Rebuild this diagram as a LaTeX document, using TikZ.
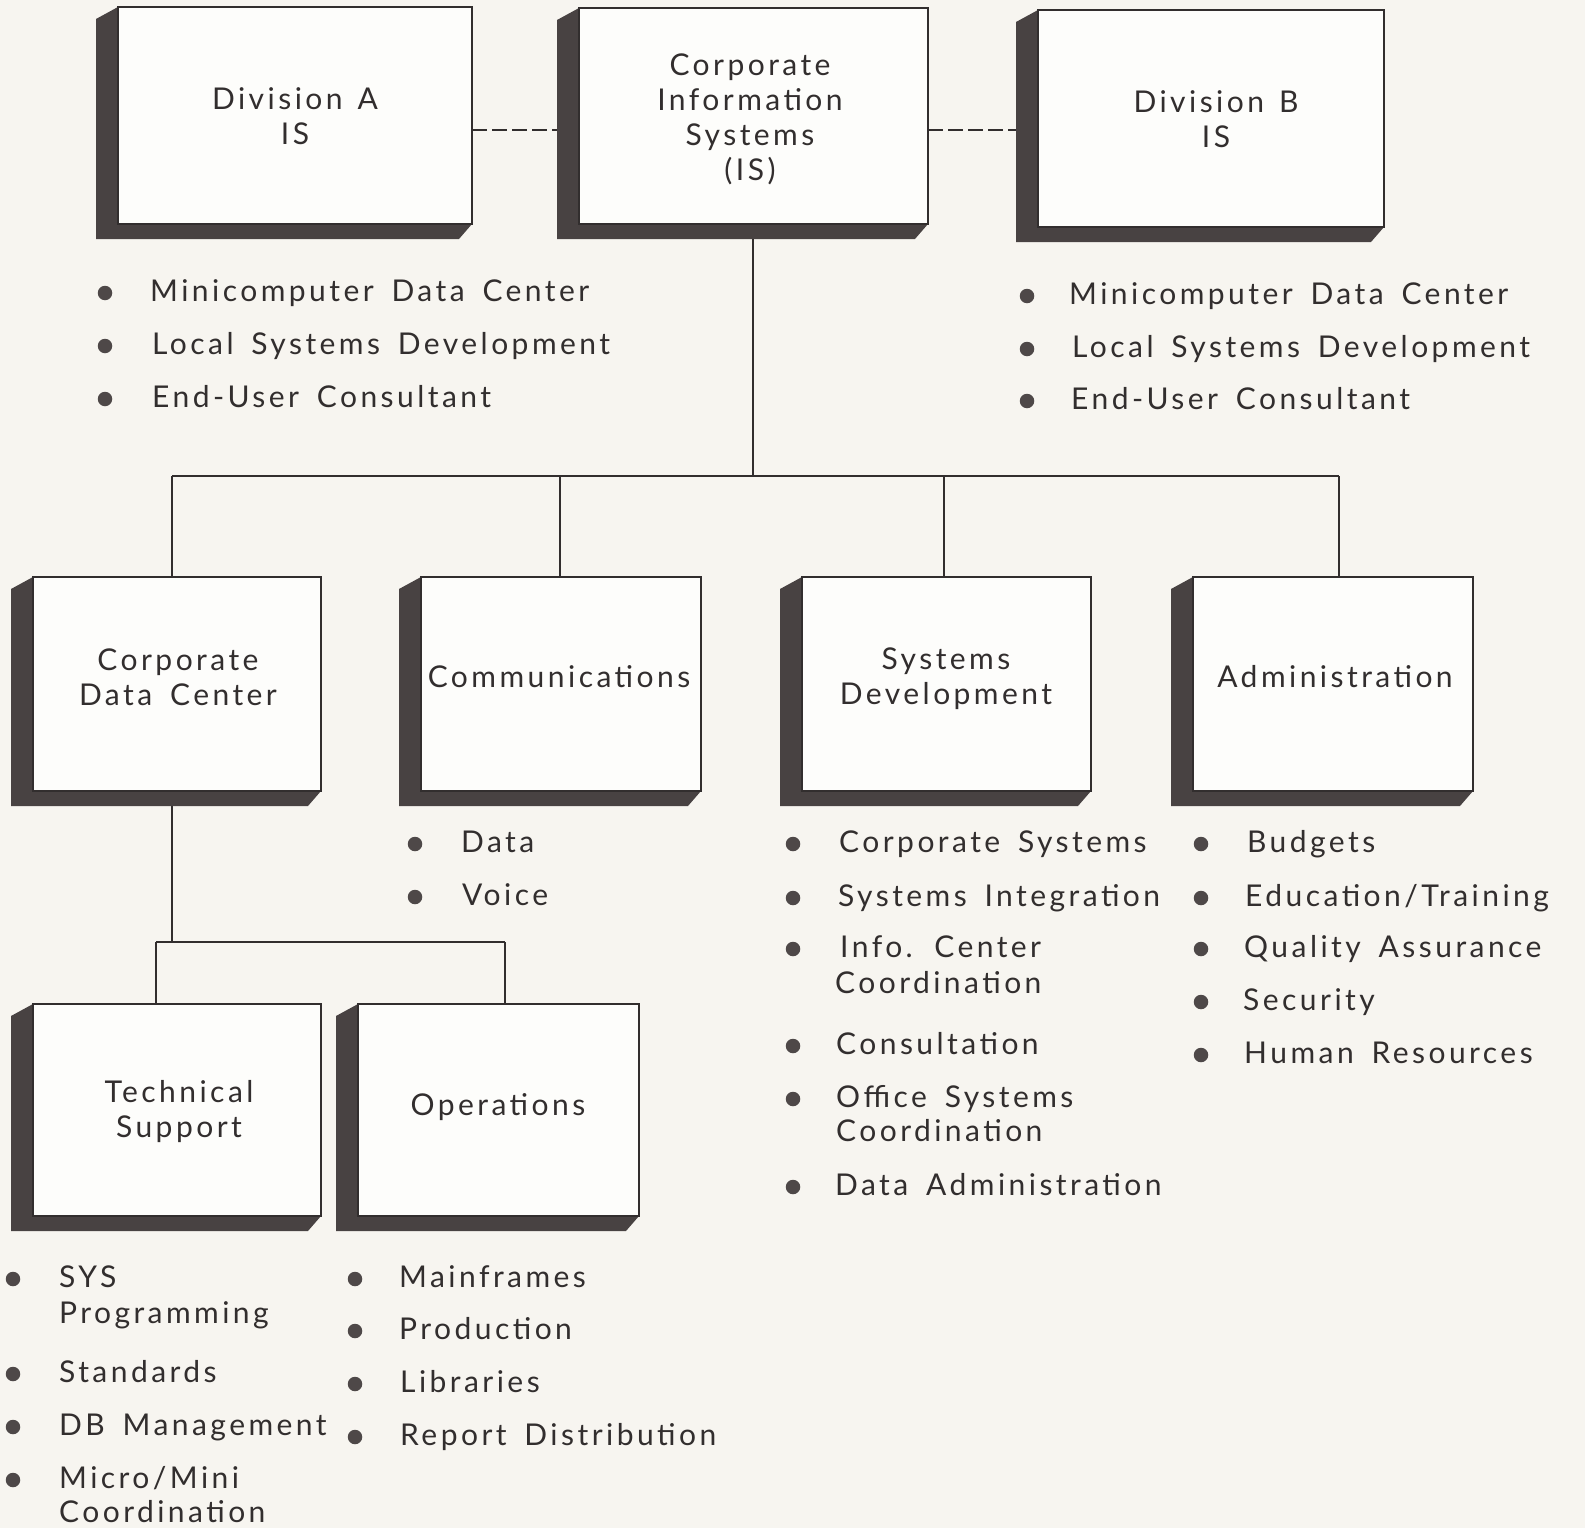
\documentclass[tikz,border=0pt]{standalone}
\usepackage{fontspec}
\setmainfont{Lato}[LetterSpace=11.5,WordSpace=1.6]
\usetikzlibrary{calc}
\pgfdeclarelayer{background}
\pgfsetlayers{background,main}

\definecolor{paper}{RGB}{247,245,240}
\definecolor{face}{RGB}{253,253,251}
\definecolor{extrude}{RGB}{72,66,66}
\definecolor{ink}{RGB}{50,46,46}
\definecolor{dotink}{RGB}{78,72,72}

\tikzset{
  boxface/.style={draw=ink, line width=1.2pt, fill=face, inner sep=0pt, outer sep=0pt},
  boxlabel/.style={align=center, text=ink, inner sep=0pt, font=\fontsize{30}{35}\selectfont},
  itemtext/.style={anchor=base west, text=ink, inner sep=0pt, font=\fontsize{30}{36}\selectfont},
  dot/.style={circle, fill=dotink, inner sep=0pt, minimum size=14.5pt},
  link/.style={draw=ink, line width=1.3pt},
  dashlink/.style={draw=ink, line width=1.4pt, dash pattern=on 15pt off 5pt},
}

% 3-D box: dark extrusion to the left and below, then the white front face
% #1 name, #2 x1, #3 y1, #4 x2, #5 y2 (front face corners)
\newcommand\orgbox[5]{%
  \fill[extrude] (#2,#3) -- (#2-22,#3+12) -- (#2-22,#5+15) -- (#4-13,#5+15) -- (#4,#5) -- (#2,#5) -- cycle;
  \node[boxface, minimum width={(#4-#2)*1pt}, minimum height={(#5-#3)*1pt}] (#1) at ({(#2+#4)/2},{(#3+#5)/2}) {};
}
% bulleted entry: #1 name, #2 bullet x, #3 text x, #4 line centre y, #5 text
\newcommand\bitem[5]{%
  \node[dot] (#1-b) at (#2,#4+2) {};
  \node[itemtext] (#1) at (#3,#4+10) {#5};
}
% continuation line of an entry: #1 name, #2 text x, #3 line centre y, #4 text
\newcommand\bcont[4]{%
  \node[itemtext] (#1) at (#2,#3+10) {#4};
}

\begin{document}
\begin{tikzpicture}[x=1pt, y=-1pt]
\begin{pgfonlayer}{background}
\fill[paper] (0,0) rectangle (1585,1528);
\end{pgfonlayer}
\useasboundingbox (0,0) rectangle (1585,1528);

% ---- boxes ----
\orgbox{diva}{118}{7}{472}{224}
\orgbox{cis}{579}{8}{928}{224}
\orgbox{divb}{1038}{10}{1384}{227}
\orgbox{cdc}{33}{577}{321}{791}
\orgbox{comm}{421}{577}{701}{791}
\orgbox{sd}{802}{577}{1091}{791}
\orgbox{adm}{1193}{577}{1473}{791}
\orgbox{ts}{33}{1004}{321}{1216}
\orgbox{ops}{358}{1004}{639}{1216}

\node[boxlabel] (diva-t) at (295,116) {Division\hspace{0.5em}A\\IS};
\node[boxlabel] (cis-t) at (750,119) {Corporate\\Information\\Systems\\(IS)};
\node[boxlabel] (divb-t) at (1216,119) {Division\hspace{0.5em}B\\IS};
\node[boxlabel] (cdc-t) at (178,677) {Corporate\\Data Center};
\node[boxlabel] (comm-t) at (559,677) {Communications};
\node[boxlabel] (sd-t) at (946,679) {Systems\\Development};
\node[boxlabel] (adm-t) at (1335,677) {Administration};
\node[boxlabel] (ts-t) at (179,1112) {Technical\\Support};
\node[boxlabel] (ops-t) at (498,1107) {Operations};

% ---- connectors ----
\coordinate (dashy) at (0,130);
\coordinate (hub) at (753,476);
\coordinate (d1) at (172,476);
\coordinate (d2) at (560,476);
\coordinate (d3) at (944,476);
\coordinate (d4) at (1339,476);
\coordinate (s0) at (172,942);
\coordinate (s1) at (156,942);
\coordinate (s2) at (505,942);
\begin{pgfonlayer}{background}
  \draw[dashlink] (diva.east |- dashy) -- (cis.west |- dashy);
  \draw[dashlink] (cis.east |- dashy) -- (divb.west |- dashy);
  \draw[link] (cis.south -| hub) -- (hub);
  \draw[link] (d1) -- (d4);
  \draw[link] (d1) -- (d1 |- cdc.north);
  \draw[link] (d2) -- (d2 |- comm.north);
  \draw[link] (d3) -- (d3 |- sd.north);
  \draw[link] (d4) -- (d4 |- adm.north);
  \draw[link] (s0 |- cdc.south) -- (s0);
  \draw[link] (s1) -- (s2);
  \draw[link] (s1) -- (s1 |- ts.north);
  \draw[link] (s2) -- (s2 |- ops.north);
\end{pgfonlayer}

% ---- lists ----
\bitem{a1}{105}{150}{291}{Minicomputer Data Center}
\bitem{a2}{105}{152}{344}{Local Systems Development}
\bitem{a3}{105}{152}{397}{End-User Consultant}

\bitem{b1}{1027}{1069}{294}{Minicomputer Data Center}
\bitem{b2}{1027}{1072}{347}{Local Systems Development}
\bitem{b3}{1027}{1071}{399}{End-User Consultant}

\bitem{c1}{415}{461}{842}{Data}
\bitem{c2}{415}{462}{895}{Voice}

\bitem{s1i}{793}{839}{842}{Corporate Systems}
\bitem{s2i}{793}{838}{896}{Systems Integration}
\bitem{s3i}{793}{840}{947}{Info. Center}
\bcont{s3i-2}{835}{983}{Coordination}
\bitem{s4i}{793}{836}{1044}{Consultation}
\bitem{s5i}{793}{836}{1097}{Office Systems}
\bcont{s5i-2}{836}{1131}{Coordination}
\bitem{s6i}{793}{835}{1185}{Data Administration}

\bitem{m1}{1201}{1247}{842}{Budgets}
\bitem{m2}{1201}{1245}{896}{Education/Training}
\bitem{m3}{1201}{1244}{947}{Quality Assurance}
\bitem{m4}{1201}{1243}{1000}{Security}
\bitem{m5}{1201}{1244}{1053}{Human Resources}

\bitem{t1}{13}{59}{1277}{SYS}
\bcont{t1-2}{59}{1313}{Programming}
\bitem{t2}{13}{59}{1372}{Standards}
\bitem{t3}{13}{59}{1425}{DB Management}
\bitem{t4}{13}{59}{1478}{Micro/Mini}
\bcont{t4-2}{59}{1512}{Coordination}

\bitem{o1}{355}{399}{1277}{Mainframes}
\bitem{o2}{355}{399}{1329}{Production}
\bitem{o3}{355}{400}{1382}{Libraries}
\bitem{o4}{355}{400}{1435}{Report Distribution}
\end{tikzpicture}
\end{document}
